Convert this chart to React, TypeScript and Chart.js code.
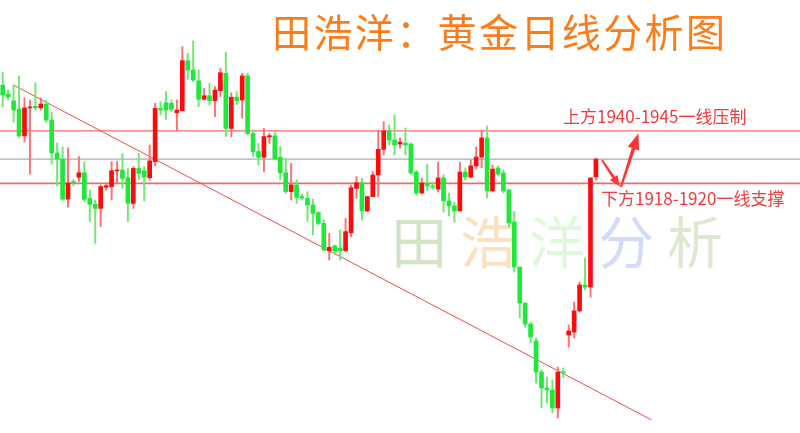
import React, { useEffect, useRef } from 'react';
import { Chart, registerables } from 'chart.js';

Chart.register(...registerables);

// Daily gold candles (price), oldest first
const opens = [
  1962.6, 1958.6, 1955.6, 1952.0, 1940.2, 1952.5, 1953.2, 1952.5, 1954.2, 1947.2,
  1932.7, 1930.0, 1912.4, 1920.1, 1922.0, 1924.0, 1912.7, 1910.1, 1908.3, 1917.6,
  1917.9, 1924.8, 1925.2, 1921.8, 1910.5, 1925.9, 1924.8, 1921.8, 1928.9, 1952.3,
  1954.8, 1954.5, 1950.4, 1951.3, 1973.3, 1969.2, 1964.4, 1956.3, 1957.9, 1955.7,
  1960.1, 1967.7, 1943.5, 1957.2, 1956.0, 1966.6, 1941.3, 1933.3, 1930.8, 1939.7,
  1940.2, 1930.8, 1924.0, 1915.7, 1918.6, 1913.5, 1912.7, 1909.8, 1906.4, 1901.7,
  1889.7, 1891.8, 1890.7, 1889.7, 1897.6, 1917.1, 1919.6, 1907.2, 1913.5, 1923.0,
  1934.3, 1942.4, 1938.4, 1936.6, 1937.1, 1936.6, 1924.3, 1915.1, 1919.5, 1918.2,
  1916.8, 1921.7, 1911.6, 1909.4, 1907.2, 1924.3, 1922.1, 1927.0, 1930.9, 1939.3,
  1916.0, 1926.1, 1923.9, 1916.4, 1902.3, 1882.5, 1866.7, 1857.4, 1850.0, 1836.3,
  1829.3, 1828.4, 1820.5, 1836.3, 1852.6, 1853.9, 1863.2, 1874.6, 1873.7, 1922.2,
];
const highs = [
  1968.3, 1960.4, 1962.6, 1966.6, 1956.9, 1956.0, 1963.6, 1956.9, 1956.0, 1950.7,
  1937.1, 1935.3, 1934.9, 1921.1, 1931.1, 1928.9, 1916.4, 1912.0, 1918.6, 1919.3,
  1928.9, 1928.9, 1932.5, 1925.9, 1926.7, 1932.5, 1926.7, 1936.2, 1954.5, 1955.3,
  1959.7, 1956.0, 1956.0, 1979.5, 1976.5, 1982.0, 1969.2, 1961.1, 1963.3, 1961.9,
  1969.9, 1977.0, 1959.2, 1959.7, 1967.7, 1967.7, 1942.8, 1936.9, 1943.5, 1941.3,
  1942.1, 1935.5, 1930.3, 1928.1, 1920.8, 1914.6, 1915.7, 1912.3, 1906.9, 1903.2,
  1897.3, 1892.2, 1898.8, 1903.9, 1918.6, 1922.3, 1921.5, 1913.5, 1924.5, 1942.8,
  1946.5, 1945.0, 1949.4, 1939.3, 1943.7, 1937.1, 1925.2, 1921.7, 1927.8, 1919.9,
  1928.7, 1923.0, 1915.1, 1911.1, 1928.7, 1926.1, 1929.6, 1935.3, 1942.8, 1944.6,
  1927.4, 1927.0, 1925.2, 1916.8, 1906.9, 1882.5, 1866.7, 1858.3, 1851.3, 1837.2,
  1834.1, 1832.8, 1838.5, 1838.1, 1857.0, 1867.1, 1875.9, 1886.5, 1921.7, 1930.5,
];
const lows = [
  1952.9, 1956.0, 1946.3, 1939.7, 1937.5, 1923.4, 1951.6, 1951.6, 1946.3, 1927.8,
  1918.2, 1911.6, 1908.9, 1918.2, 1920.1, 1911.3, 1902.5, 1892.9, 1900.3, 1916.4,
  1912.0, 1919.3, 1917.1, 1902.5, 1908.3, 1920.8, 1911.6, 1920.8, 1927.0, 1949.4,
  1947.5, 1950.9, 1942.8, 1951.3, 1965.1, 1964.1, 1953.1, 1956.0, 1953.8, 1948.7,
  1957.5, 1939.9, 1939.9, 1953.8, 1948.0, 1940.6, 1931.1, 1927.4, 1924.5, 1936.9,
  1929.6, 1920.8, 1914.9, 1912.0, 1910.5, 1912.0, 1902.5, 1896.6, 1901.0, 1889.7,
  1885.6, 1887.8, 1885.6, 1889.3, 1895.9, 1912.7, 1903.2, 1906.9, 1913.5, 1913.5,
  1931.8, 1936.2, 1931.8, 1934.9, 1931.8, 1923.4, 1914.2, 1914.6, 1916.0, 1916.8,
  1915.5, 1906.7, 1905.0, 1902.3, 1907.2, 1920.8, 1921.7, 1925.6, 1926.1, 1912.9,
  1915.5, 1922.6, 1915.1, 1900.1, 1880.3, 1860.1, 1856.1, 1849.1, 1831.5, 1820.5,
  1822.7, 1818.3, 1816.1, 1833.7, 1847.3, 1851.3, 1862.7, 1872.4, 1869.3, 1920.8,
];
const closes = [
  1958.2, 1957.3, 1951.6, 1940.2, 1952.5, 1952.9, 1952.6, 1954.2, 1947.2, 1932.7,
  1930.0, 1912.4, 1919.5, 1919.3, 1924.0, 1912.3, 1910.1, 1908.3, 1917.9, 1918.3,
  1924.9, 1925.2, 1921.5, 1910.5, 1925.9, 1923.7, 1922.0, 1929.2, 1952.3, 1951.6,
  1951.6, 1951.9, 1951.6, 1973.3, 1969.2, 1964.8, 1956.3, 1957.9, 1955.7, 1960.4,
  1968.0, 1943.5, 1957.2, 1955.7, 1966.6, 1941.3, 1933.3, 1930.8, 1939.9, 1940.3,
  1930.0, 1924.0, 1915.7, 1918.6, 1913.2, 1912.9, 1909.8, 1906.1, 1901.7, 1890.0,
  1891.2, 1889.7, 1889.7, 1898.1, 1917.4, 1919.6, 1907.2, 1913.5, 1923.0, 1934.3,
  1942.4, 1938.4, 1936.2, 1937.5, 1936.2, 1923.9, 1915.1, 1919.5, 1918.2, 1917.7,
  1921.7, 1911.6, 1909.4, 1907.2, 1924.3, 1922.1, 1927.0, 1930.9, 1939.3, 1916.0,
  1925.6, 1923.4, 1916.0, 1901.9, 1882.5, 1866.7, 1857.4, 1851.7, 1836.3, 1829.3,
  1828.4, 1820.5, 1836.3, 1835.9, 1854.4, 1863.2, 1874.6, 1873.7, 1921.7, 1930.0,
];

// Key levels
const resistanceLevel = 1942.4;
const supportLevel = 1919.3;
const lastPriceLevel = 1930.0;

// Falling trend line (bar index, price)
const trendXs = [1.94, 119.25];
const trendYs = [1962.6, 1815.2];

// Arrows (bar index, price)
const arrowDownFrom = [110.1, 1929.6];
const arrowDownTo = [113.4, 1917.9];
const arrowUpFrom = [113.6, 1917.7];
const arrowUpTo = [116.8, 1941.3];

// Axis window (slots and price range of the picture)
const slotCount = 147;
const priceMin = 1809.48;
const priceMax = 2000;

const titleText = '田浩洋：黄金日线分析图';
const upperNote = '上方1940-1945一线压制';
const lowerNote = '下方1918-1920一线支撑';
const watermarkChars = ['田', '浩', '洋', '分', '析'];
const watermarkColors = ['#d3e3c6', '#fde0c2', '#e0f7dc', '#d2dcf8', '#dde8d0'];

const RED = '#ff0a0a';
const GREEN = '#1ee83a';
const RED_WICK = '#ff7070';
const GREEN_WICK = '#6ee86e';
const CJK = '"Noto Sans CJK SC", "Noto Sans", sans-serif';

function drawArrow(ctx: CanvasRenderingContext2D, x1: number, y1: number, x2: number, y2: number, headLen: number, headW: number, shaftW: number, color: string) {
  const ang = Math.atan2(y2 - y1, x2 - x1);
  const c = Math.cos(ang);
  const s = Math.sin(ang);
  const bx = x2 - headLen * c;
  const by = y2 - headLen * s;
  ctx.save();
  ctx.fillStyle = color;
  ctx.beginPath();
  ctx.moveTo(x1 - (shaftW * 0.3) * s, y1 + (shaftW * 0.3) * c);
  ctx.lineTo(bx - (shaftW / 2) * s, by + (shaftW / 2) * c);
  ctx.lineTo(bx - (headW / 2) * s, by + (headW / 2) * c);
  ctx.lineTo(x2, y2);
  ctx.lineTo(bx + (headW / 2) * s, by - (headW / 2) * c);
  ctx.lineTo(bx + (shaftW / 2) * s, by - (shaftW / 2) * c);
  ctx.lineTo(x1 + (shaftW * 0.3) * s, y1 - (shaftW * 0.3) * c);
  ctx.closePath();
  ctx.fill();
  ctx.restore();
}

const arrowPlugin = {
  id: 'arrows',
  afterDatasetsDraw(chart: any) {
    const { ctx, scales } = chart;
    const x = scales.x;
    const y = scales.y;
    const px = (p: number[]) => [x.getPixelForValue(p[0]), y.getPixelForValue(p[1])];
    const a1 = px(arrowDownFrom);
    const a2 = px(arrowDownTo);
    drawArrow(ctx, a1[0], a1[1], a2[0], a2[1], 11, 9, 3, '#ff3333');
    const b1 = px(arrowUpFrom);
    const b2 = px(arrowUpTo);
    drawArrow(ctx, b1[0], b1[1], b2[0], b2[1], 16, 12, 3.5, '#ff3333');
  },
};

export default function App() {
  const canvasRef = useRef<HTMLCanvasElement | null>(null);

  useEffect(() => {
    const canvas = canvasRef.current;
    if (!canvas) return;
    const idx = opens.map((_, i) => i);
    const up = idx.map((i) => closes[i] >= opens[i]);
    const hline = (v: number) => [
      { x: -0.5, y: v },
      { x: slotCount - 0.5, y: v },
    ];
    const chart = new Chart(canvas, {
      type: 'bar',
      data: {
        datasets: [
          {
            type: 'line',
            label: 'resistance',
            data: hline(resistanceLevel),
            borderColor: '#f04646',
            borderWidth: 1,
            pointRadius: 0,
            order: 10,
          } as any,
          {
            type: 'line',
            label: 'support',
            data: hline(supportLevel),
            borderColor: '#f26a6a',
            borderWidth: 1.6,
            pointRadius: 0,
            order: 10,
          } as any,
          {
            type: 'line',
            label: 'last',
            data: hline(lastPriceLevel),
            borderColor: '#a6aeb8',
            borderWidth: 1.3,
            pointRadius: 0,
            order: 10,
          } as any,
          {
            type: 'line',
            label: 'trend',
            data: trendXs.map((v, i) => ({ x: v, y: trendYs[i] })),
            borderColor: '#f04a4a',
            borderWidth: 1,
            pointRadius: 0,
            order: 9,
          } as any,
          {
            type: 'bar',
            label: 'wick',
            data: idx.map((i) => ({ x: i, y: [lows[i], highs[i]] })),
            backgroundColor: idx.map((i) => (up[i] ? RED_WICK : GREEN_WICK)),
            barThickness: 1.3,
            grouped: false,
            order: 2,
          } as any,
          {
            type: 'bar',
            label: 'body',
            data: idx.map((i) => ({ x: i, y: [opens[i], closes[i]] })),
            backgroundColor: idx.map((i) => (up[i] ? RED : GREEN)),
            barThickness: 4,
            minBarLength: 1,
            grouped: false,
            order: 1,
          } as any,
        ],
      },
      options: {
        responsive: false,
        animation: false,
        layout: { padding: 0 },
        plugins: { legend: { display: false }, tooltip: { enabled: false }, title: { display: false } },
        scales: {
          x: { type: 'linear', min: -0.5, max: slotCount - 0.5, offset: false, display: false, grid: { offset: false } },
          y: { type: 'linear', min: priceMin, max: priceMax, display: false },
        },
      } as any,
      plugins: [arrowPlugin],
    });
    return () => chart.destroy();
  }, []);

  return (
    <div style={{ position: 'fixed', left: 0, top: 0, width: 800, height: 433, background: '#ffffff', overflow: 'hidden' }}>
      <div
        style={{
          position: 'absolute',
          left: 391,
          top: 211,
          fontFamily: CJK,
          fontSize: 56,
          lineHeight: 1,
          letterSpacing: '13px',
          whiteSpace: 'nowrap',
          zIndex: 0,
        }}
      >
        {watermarkChars.map((ch, i) => (
          <span key={i} style={{ color: watermarkColors[i] }}>
            {ch}
          </span>
        ))}
      </div>
      <canvas
        ref={canvasRef}
        width={800}
        height={433}
        style={{ position: 'absolute', left: 0, top: 0, width: 800, height: 433, zIndex: 1 }}
      />
      <div
        style={{
          position: 'absolute',
          left: 272,
          top: 11,
          fontFamily: CJK,
          fontSize: 39,
          lineHeight: 1,
          letterSpacing: '2.4px',
          color: '#fb7c18',
          whiteSpace: 'nowrap',
          zIndex: 2,
        }}
      >
        {titleText}
      </div>
      <div
        style={{
          position: 'absolute',
          left: 563,
          top: 107,
          fontFamily: CJK,
          fontSize: 17,
          lineHeight: 1,
          color: '#f03c3c',
          whiteSpace: 'nowrap',
          zIndex: 2,
        }}
      >
        {upperNote}
      </div>
      <div
        style={{
          position: 'absolute',
          left: 601,
          top: 189,
          fontFamily: CJK,
          fontSize: 17,
          lineHeight: 1,
          color: '#f03c3c',
          whiteSpace: 'nowrap',
          zIndex: 2,
        }}
      >
        {lowerNote}
      </div>
    </div>
  );
}
